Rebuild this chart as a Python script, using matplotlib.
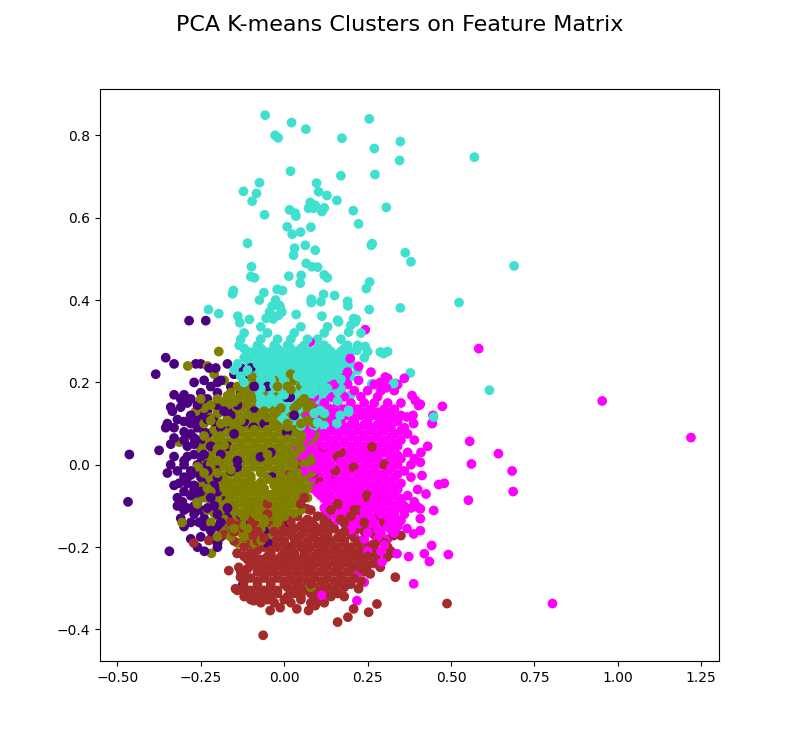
import matplotlib
matplotlib.use("Agg")
import matplotlib.pyplot as plt

# Each cluster: rows of (y, [x, ...]) for the dense core + a list of loose points.

# --- cluster 0: turquoise ---------------------------------------------------
turq_rows = [
    (0.335, [-0.07, 0.05, 0.13]),
    (0.32, [-0.12, -0.05, 0.03, 0.12, 0.23]),
    (0.305, [-0.13, -0.07, -0.02, 0.02, 0.07, 0.10, 0.17]),
    (0.29, [-0.135, -0.08, -0.03, 0.01, 0.06, 0.12, 0.19, 0.22]),
    (0.2825, [-0.12, -0.07, -0.02, 0.02, 0.05, 0.10, 0.13, 0.18]),
    (0.275, [-0.11, -0.09, -0.06, -0.04, -0.01, 0.02, 0.04, 0.06, 0.08, 0.11, 0.14, 0.17, 0.20, 0.25, 0.31]),
    (0.2675, [-0.08, -0.03, 0.01, 0.04, 0.09, 0.12, 0.16, 0.19]),
    (0.26, [-0.12, -0.10, -0.07, -0.05, -0.02, 0.0, 0.03, 0.05, 0.07, 0.10, 0.13, 0.15, 0.18, 0.24]),
    (0.2525, [-0.11, -0.06, -0.04, 0.01, 0.05, 0.08, 0.11, 0.14, 0.18]),
    (0.245, [-0.14, -0.08, -0.06, -0.03, -0.01, 0.02, 0.04, 0.06, 0.09, 0.12, 0.16, 0.20]),
    (0.2375, [-0.09, -0.05, -0.02, 0.0, 0.03, 0.07, 0.10, 0.13, 0.17]),
    (0.23, [-0.15, -0.11, -0.07, -0.04, -0.02, 0.01, 0.03, 0.05, 0.08, 0.11, 0.14, 0.18, 0.22]),
    (0.2225, [-0.11, -0.07, -0.04, -0.01, 0.03, 0.06, 0.09, 0.12, 0.15]),
    (0.215, [-0.13, -0.09, -0.05, -0.03, 0.0, 0.02, 0.04, 0.07, 0.10, 0.13, 0.16, 0.20]),
    (0.2075, [-0.10, -0.07, -0.04, 0.0, 0.02, 0.05, 0.09, 0.13, 0.17]),
    (0.20, [-0.12, -0.08, -0.06, -0.02, 0.01, 0.03, 0.06, 0.08, 0.11, 0.15, 0.19]),
    (0.1925, [-0.09, -0.05, -0.03, 0.0, 0.05, 0.09, 0.12, 0.15]),
    (0.185, [-0.10, -0.07, -0.04, -0.01, 0.02, 0.04, 0.07, 0.10, 0.13, 0.17]),
    (0.1775, [-0.08, -0.06, -0.03, 0.01, 0.04, 0.06, 0.09, 0.12, 0.16]),
    (0.17, [-0.09, -0.05, -0.02, 0.0, 0.03, 0.05, 0.08, 0.11, 0.14, 0.20]),
    (0.1625, [-0.07, -0.04, -0.01, 0.02, 0.07, 0.10, 0.14]),
    (0.155, [-0.06, -0.03, 0.01, 0.04, 0.06, 0.09, 0.12, 0.16]),
    (0.1475, [-0.05, -0.02, 0.03, 0.07, 0.11]),
    (0.14, [-0.04, -0.01, 0.02, 0.05, 0.08, 0.10, 0.13]),
    (0.1325, [-0.03, 0.0, 0.04, 0.08, 0.11]),
    (0.125, [-0.02, 0.03, 0.06, 0.09, 0.12]),
    (0.1175, [-0.01, 0.02, 0.05, 0.09, 0.12]),
    (0.11, [0.0, 0.04, 0.07, 0.10, 0.14]),
    (0.1025, [0.03, 0.07, 0.10]),
    (0.095, [0.05, 0.09, 0.12]),
    (0.08, [0.06, 0.10]),
]
turq_extra = [
    (0.570, 0.747), (0.689, 0.483), (0.524, 0.394), (0.615, 0.181),
    (-0.057, 0.849), (0.022, 0.831), (0.065, 0.815), (0.255, 0.840),
    (-0.027, 0.800), (-0.018, 0.794), (0.173, 0.793), (0.348, 0.785),
    (0.270, 0.768), (0.346, 0.739), (0.019, 0.713), (0.170, 0.702),
    (0.272, 0.705), (-0.074, 0.685), (-0.122, 0.664), (-0.083, 0.659),
    (-0.096, 0.640), (0.097, 0.684), (0.103, 0.663), (0.128, 0.654),
    (0.158, 0.642), (0.078, 0.637), (0.093, 0.630), (0.073, 0.623),
    (0.088, 0.623), (0.120, 0.624), (0.113, 0.615), (0.016, 0.619),
    (0.035, 0.604), (0.033, 0.611), (-0.059, 0.607), (0.207, 0.617),
    (0.306, 0.625), (0.223, 0.585), (0.009, 0.578), (0.024, 0.560),
    (0.049, 0.565), (0.080, 0.577), (-0.110, 0.538), (0.031, 0.526),
    (0.028, 0.509), (0.063, 0.533), (0.093, 0.521), (0.261, 0.533),
    (0.264, 0.537), (0.363, 0.515), (0.380, 0.493), (-0.098, 0.481),
    (-0.089, 0.454), (-0.100, 0.457), (0.066, 0.489), (0.083, 0.481),
    (0.100, 0.480), (0.014, 0.458), (0.051, 0.460), (0.048, 0.441),
    (0.120, 0.461), (0.129, 0.454), (0.256, 0.444), (0.246, 0.428),
    (-0.152, 0.423), (-0.155, 0.415), (-0.061, 0.418), (-0.074, 0.400),
    (-0.021, 0.426), (-0.005, 0.423), (-0.026, 0.400), (-0.014, 0.387),
    (-0.036, 0.385), (0.081, 0.402), (0.081, 0.394), (0.118, 0.414),
    (0.110, 0.396), (0.151, 0.411), (0.190, 0.397), (0.191, 0.386),
    (-0.227, 0.377), (-0.196, 0.367), (0.255, 0.377), (0.348, 0.381),
    (-0.012, 0.383), (-0.007, 0.371), (0.036, 0.365), (0.113, 0.361),
    (0.160, 0.351), (0.208, 0.355), (0.216, 0.353), (0.200, 0.339),
    (0.193, 0.322), (-0.139, 0.361), (-0.133, 0.345), (-0.104, 0.353),
    (-0.044, 0.371), (-0.054, 0.356), (-0.033, 0.354), (-0.017, 0.363),
    (0.288, 0.274), (0.298, 0.270), (0.378, 0.223), (0.333, 0.198),
    (0.263, 0.197), (0.448, 0.116), (0.243, 0.287), (0.218, 0.278),
    (0.213, 0.347), (0.163, 0.347), (0.188, 0.237), (0.158, 0.197),
    (0.193, 0.132), (0.168, 0.120), (-0.071, 0.148), (-0.036, 0.185),
    (0.193, 0.128), (0.158, 0.124), (0.263, 0.195), (0.328, 0.197),
    (0.108, 0.132), (0.158, 0.100),
]

# --- cluster 1: magenta -----------------------------------------------------
mag_rows = [
    (0.225, [0.19, 0.26]),
    (0.21, [0.17, 0.31, 0.36]),
    (0.195, [0.15, 0.19, 0.27, 0.34]),
    (0.18, [0.12, 0.17, 0.21, 0.25, 0.29, 0.33]),
    (0.165, [0.09, 0.14, 0.18, 0.23, 0.28]),
    (0.15, [0.08, 0.12, 0.16, 0.20, 0.24, 0.27, 0.31, 0.35]),
    (0.135, [0.10, 0.14, 0.18, 0.22, 0.26, 0.30, 0.33]),
    (0.1275, [0.12, 0.16, 0.20, 0.24, 0.28, 0.32]),
    (0.12, [0.07, 0.11, 0.15, 0.19, 0.23, 0.27, 0.31, 0.35]),
    (0.1125, [0.09, 0.13, 0.17, 0.21, 0.25, 0.29, 0.33]),
    (0.105, [0.09, 0.13, 0.17, 0.21, 0.25, 0.29, 0.34]),
    (0.0975, [0.08, 0.12, 0.16, 0.20, 0.24, 0.28, 0.31]),
    (0.09, [0.06, 0.10, 0.14, 0.18, 0.22, 0.26, 0.30, 0.32, 0.36]),
    (0.0825, [0.07, 0.10, 0.14, 0.18, 0.22, 0.26, 0.30, 0.35]),
    (0.075, [0.05, 0.08, 0.12, 0.16, 0.20, 0.24, 0.28, 0.33, 0.37]),
    (0.0675, [0.08, 0.12, 0.16, 0.20, 0.24, 0.28, 0.32]),
    (0.06, [0.06, 0.10, 0.14, 0.18, 0.22, 0.26, 0.30, 0.35, 0.39]),
    (0.0525, [0.06, 0.10, 0.14, 0.18, 0.22, 0.26, 0.30, 0.33]),
    (0.045, [0.04, 0.08, 0.12, 0.16, 0.20, 0.24, 0.28, 0.31, 0.34, 0.43]),
    (0.0375, [0.08, 0.12, 0.16, 0.20, 0.24, 0.28, 0.32]),
    (0.03, [0.06, 0.10, 0.14, 0.18, 0.22, 0.26, 0.30, 0.37, 0.41]),
    (0.0225, [0.07, 0.11, 0.15, 0.19, 0.24, 0.28, 0.34]),
    (0.015, [0.05, 0.09, 0.12, 0.16, 0.20, 0.23, 0.27, 0.32, 0.35, 0.39]),
    (0.0075, [0.09, 0.13, 0.17, 0.21, 0.25, 0.29, 0.31]),
    (0.0, [0.07, 0.11, 0.14, 0.18, 0.21, 0.25, 0.29, 0.34, 0.38]),
    (-0.0075, [0.09, 0.12, 0.16, 0.19, 0.23, 0.27, 0.32]),
    (-0.015, [0.06, 0.09, 0.13, 0.16, 0.20, 0.24, 0.27, 0.31, 0.36]),
    (-0.0225, [0.07, 0.10, 0.14, 0.18, 0.22, 0.25, 0.29, 0.34]),
    (-0.03, [0.08, 0.11, 0.15, 0.18, 0.22, 0.26, 0.30, 0.33, 0.38]),
    (-0.0375, [0.09, 0.13, 0.16, 0.20, 0.24, 0.28, 0.31]),
    (-0.045, [0.10, 0.13, 0.17, 0.21, 0.24, 0.28, 0.32, 0.35]),
    (-0.0525, [0.11, 0.15, 0.19, 0.22, 0.26, 0.30, 0.33]),
    (-0.06, [0.09, 0.12, 0.16, 0.19, 0.23, 0.27, 0.30, 0.34, 0.40]),
    (-0.0675, [0.10, 0.13, 0.17, 0.21, 0.25, 0.28, 0.32]),
    (-0.075, [0.11, 0.14, 0.18, 0.22, 0.25, 0.29, 0.33, 0.37]),
    (-0.0825, [0.12, 0.16, 0.20, 0.23, 0.27, 0.31, 0.35]),
    (-0.09, [0.13, 0.17, 0.20, 0.24, 0.28, 0.31, 0.35, 0.39]),
    (-0.0975, [0.15, 0.18, 0.22, 0.26, 0.29, 0.33]),
    (-0.105, [0.12, 0.15, 0.19, 0.23, 0.26, 0.30, 0.34, 0.38]),
    (-0.1125, [0.13, 0.17, 0.21, 0.24, 0.28, 0.32]),
    (-0.12, [0.14, 0.18, 0.22, 0.25, 0.29, 0.33, 0.36]),
    (-0.1275, [0.16, 0.20, 0.23, 0.27, 0.31]),
    (-0.135, [0.16, 0.20, 0.24, 0.28, 0.32, 0.35]),
    (-0.1425, [0.18, 0.22, 0.26, 0.30]),
    (-0.15, [0.19, 0.23, 0.27, 0.31, 0.34]),
    (-0.1575, [0.20, 0.24, 0.28, 0.32]),
    (-0.165, [0.21, 0.25, 0.29, 0.33]),
    (-0.18, [0.24, 0.28, 0.31]),
    (-0.195, [0.26, 0.30]),
    (-0.21, [0.25, 0.29]),
]
mag_extra = [
    (1.219, 0.066), (0.953, 0.155), (0.804, -0.337), (0.583, 0.282),
    (0.556, 0.057), (0.642, 0.027), (0.561, 0.002), (0.683, -0.015),
    (0.686, -0.065), (0.552, -0.086), (0.474, 0.142), (0.446, 0.120),
    (0.444, 0.101), (0.408, 0.147), (0.408, 0.006), (0.413, -0.026),
    (0.463, -0.048), (0.480, -0.045), (0.425, -0.071), (0.408, -0.107),
    (0.408, -0.131), (0.448, -0.111), (0.408, -0.160), (0.442, -0.196),
    (0.420, -0.216), (0.435, -0.235), (0.492, -0.218), (0.388, -0.289),
    (0.373, -0.223), (0.243, 0.328), (0.078, 0.298), (0.198, 0.258),
    (0.223, 0.239), (0.223, 0.205), (0.183, 0.213), (0.143, 0.193),
    (0.303, 0.213), (0.093, 0.225), (0.306, 0.187), (0.288, 0.200),
    (0.383, 0.168), (0.393, 0.156), (0.403, 0.144), (0.368, 0.116),
    (0.386, 0.120), (0.388, 0.100), (0.443, 0.100), (0.358, -0.099),
    (0.401, -0.103), (0.338, -0.135), (0.368, -0.155), (0.388, -0.168),
    (0.338, -0.216), (0.293, -0.236), (0.218, -0.265), (0.218, -0.330),
    (0.113, -0.317), (0.240, -0.285), (0.270, -0.240),
]

# --- cluster 2: indigo ------------------------------------------------------
ind_rows = [
    (0.35, [-0.285, -0.235]),
    (0.26, [-0.355]),
    (0.245, [-0.33, -0.265, -0.25, -0.17]),
    (0.235, [-0.225, -0.205, -0.13, -0.10]),
    (0.22, [-0.385, -0.15, -0.08]),
    (0.205, [-0.24, -0.19, -0.12]),
    (0.20, [-0.27, -0.20]),
    (0.19, [-0.22, -0.16, -0.09, -0.05]),
    (0.175, [-0.25, -0.20, -0.13]),
    (0.17, [-0.33, -0.30]),
    (0.16, [-0.31, -0.28, -0.23, -0.17, -0.11]),
    (0.15, [-0.29, -0.25]),
    (0.145, [-0.26, -0.20, -0.14]),
    (0.14, [-0.34, -0.31]),
    (0.13, [-0.335, -0.23, -0.18, -0.09]),
    (0.12, [-0.28, -0.25, -0.16]),
    (0.11, [-0.32, -0.26, -0.23]),
    (0.105, [-0.30, -0.21, -0.12]),
    (0.10, [-0.35, -0.28]),
    (0.09, [-0.355, -0.33, -0.26, -0.19]),
    (0.08, [-0.30, -0.24]),
    (0.075, [-0.28, -0.23, -0.15]),
    (0.065, [-0.33, -0.27]),
    (0.06, [-0.30, -0.25, -0.20]),
    (0.05, [-0.34, -0.27]),
    (0.045, [-0.29, -0.22, -0.17]),
    (0.035, [-0.375]),
    (0.025, [-0.464, -0.27, -0.24, -0.19]),
    (0.02, [-0.33, -0.29, -0.25]),
    (0.01, [-0.30, -0.22, -0.14]),
    (0.0, [-0.34, -0.30, -0.26, -0.23, -0.20]),
    (-0.015, [-0.32, -0.28, -0.23, -0.16]),
    (-0.02, [-0.35, -0.26]),
    (-0.025, [-0.28, -0.22]),
    (-0.03, [-0.30, -0.25, -0.20]),
    (-0.045, [-0.315, -0.29, -0.24, -0.18]),
    (-0.05, [-0.33, -0.27, -0.21]),
    (-0.06, [-0.27, -0.22, -0.15]),
    (-0.065, [-0.30, -0.25, -0.20]),
    (-0.075, [-0.28, -0.24, -0.19]),
    (-0.08, [-0.32, -0.26, -0.22]),
    (-0.09, [-0.468, -0.305, -0.26, -0.21]),
    (-0.10, [-0.32, -0.27, -0.21]),
    (-0.105, [-0.29, -0.23, -0.17]),
    (-0.11, [-0.30, -0.25, -0.19]),
    (-0.12, [-0.27, -0.20, -0.13]),
    (-0.13, [-0.31, -0.24, -0.17]),
    (-0.14, [-0.28, -0.255, -0.19, -0.10]),
    (-0.15, [-0.30, -0.24, -0.20, -0.17]),
    (-0.16, [-0.22, -0.15, -0.06]),
    (-0.175, [-0.25, -0.19]),
    (-0.18, [-0.28, -0.22]),
    (-0.19, [-0.20, -0.05]),
    (-0.20, [-0.26, -0.20]),
    (-0.21, [-0.344, -0.239]),
]
ind_extra = [
    (-0.124, -0.291), (0.008, 0.164), (0.008, 0.079), (-0.036, -0.030),
    (0.008, -0.082), (0.018, -0.139), (-0.176, -0.123), (0.148, 0.051),
    (0.030, 0.120), (-0.040, 0.030), (0.020, -0.200), (-0.060, 0.100),
    (0.018, -0.143), (-0.101, -0.054), (-0.161, -0.095), (-0.071, 0.019),
    (-0.141, -0.006), (-0.092, 0.091), (-0.171, 0.132), (-0.161, 0.083),
    (-0.101, -0.143), (-0.032, -0.159), (0.018, 0.164),
]

# --- cluster 3: olive -------------------------------------------------------
olive_rows = [
    (0.275, [-0.196]),
    (0.24, [-0.289, -0.23]),
    (0.22, [-0.21, -0.15, -0.06, 0.02]),
    (0.213, [-0.096, -0.071, -0.041, 0.013]),
    (0.205, [-0.18, -0.12, -0.08, -0.03, 0.03]),
    (0.19, [-0.14, -0.10, -0.06, -0.02, 0.01, 0.05]),
    (0.1825, [-0.12, -0.08, -0.05, -0.01, 0.02]),
    (0.175, [-0.16, -0.11, -0.07, -0.04, 0.0, 0.04]),
    (0.1675, [-0.17, -0.13, -0.10, -0.06, -0.03, 0.01, 0.04]),
    (0.16, [-0.25, -0.20, -0.14, -0.09, -0.05, -0.01, 0.02, 0.06]),
    (0.1525, [-0.18, -0.15, -0.11, -0.07, -0.03, 0.01, 0.05]),
    (0.145, [-0.22, -0.17, -0.12, -0.08, -0.04, 0.0, 0.04, 0.08]),
    (0.1375, [-0.24, -0.18, -0.13, -0.09, -0.05, -0.01, 0.03, 0.07]),
    (0.13, [-0.265, -0.20, -0.15, -0.10, -0.06, -0.02, 0.02, 0.06, 0.09]),
    (0.1225, [-0.20, -0.15, -0.11, -0.07, -0.03, 0.01, 0.05]),
    (0.115, [-0.22, -0.17, -0.13, -0.09, -0.05, -0.01, 0.03, 0.07, 0.10]),
    (0.1075, [-0.22, -0.17, -0.13, -0.09, -0.05, -0.01, 0.03, 0.07]),
    (0.10, [-0.24, -0.19, -0.15, -0.11, -0.07, -0.03, 0.01, 0.05, 0.09]),
    (0.0925, [-0.19, -0.15, -0.11, -0.07, -0.03, 0.01, 0.05, 0.09]),
    (0.085, [-0.21, -0.17, -0.13, -0.09, -0.05, -0.01, 0.03, 0.07, 0.11]),
    (0.0775, [-0.22, -0.17, -0.13, -0.09, -0.05, -0.01, 0.03, 0.07]),
    (0.07, [-0.24, -0.19, -0.15, -0.11, -0.07, -0.03, 0.01, 0.05, 0.09]),
    (0.0625, [-0.20, -0.15, -0.11, -0.07, -0.03, 0.01, 0.05, 0.08]),
    (0.055, [-0.314, -0.22, -0.17, -0.13, -0.09, -0.05, -0.01, 0.03, 0.07, 0.10]),
    (0.0475, [-0.23, -0.18, -0.13, -0.09, -0.05, -0.01, 0.03, 0.06]),
    (0.04, [-0.25, -0.20, -0.15, -0.11, -0.07, -0.03, 0.01, 0.05, 0.08]),
    (0.0325, [-0.20, -0.16, -0.11, -0.07, -0.03, 0.01, 0.05, 0.08]),
    (0.025, [-0.22, -0.18, -0.13, -0.09, -0.05, -0.01, 0.03, 0.06, 0.10]),
    (0.0175, [-0.23, -0.18, -0.14, -0.09, -0.05, -0.01, 0.02, 0.06]),
    (0.01, [-0.24, -0.20, -0.16, -0.11, -0.07, -0.03, 0.01, 0.04, 0.08]),
    (0.0025, [-0.22, -0.18, -0.13, -0.09, -0.05, -0.01, 0.03, 0.06]),
    (-0.005, [-0.26, -0.22, -0.18, -0.14, -0.09, -0.05, -0.01, 0.02, 0.06, 0.10]),
    (-0.0125, [-0.24, -0.20, -0.16, -0.11, -0.07, -0.03, 0.01, 0.04, 0.08]),
    (-0.02, [-0.24, -0.20, -0.16, -0.12, -0.07, -0.03, 0.0, 0.04, 0.08]),
    (-0.0275, [-0.22, -0.18, -0.14, -0.10, -0.05, -0.01, 0.02, 0.06]),
    (-0.035, [-0.22, -0.18, -0.14, -0.10, -0.05, -0.01, 0.03, 0.06]),
    (-0.0425, [-0.20, -0.16, -0.12, -0.07, -0.03, 0.01, 0.04]),
    (-0.05, [-0.25, -0.20, -0.16, -0.12, -0.08, -0.03, 0.01, 0.05, 0.08]),
    (-0.0575, [-0.23, -0.18, -0.14, -0.10, -0.06, -0.01, 0.03, 0.07]),
    (-0.065, [-0.22, -0.18, -0.14, -0.10, -0.06, -0.02, 0.02, 0.06]),
    (-0.0725, [-0.20, -0.16, -0.12, -0.08, -0.04, 0.0, 0.04]),
    (-0.08, [-0.24, -0.20, -0.16, -0.12, -0.08, -0.04, 0.0, 0.04, 0.07]),
    (-0.0875, [-0.22, -0.18, -0.14, -0.10, -0.06, -0.02, 0.02]),
    (-0.095, [-0.26, -0.21, -0.17, -0.13, -0.09, -0.05, -0.01, 0.03]),
    (-0.1025, [-0.19, -0.15, -0.11, -0.07, -0.03, 0.01]),
    (-0.11, [-0.23, -0.19, -0.15, -0.11, -0.07, -0.03, 0.01, 0.05]),
    (-0.1175, [-0.21, -0.17, -0.13, -0.09, -0.05, -0.01, 0.03]),
    (-0.125, [-0.20, -0.16, -0.12, -0.08, -0.04, 0.0]),
    (-0.1325, [-0.18, -0.14, -0.10, -0.06, -0.02]),
    (-0.14, [-0.306, -0.22, -0.18, -0.14, -0.10, -0.06, -0.02]),
    (-0.1475, [-0.16, -0.12, -0.08, -0.04]),
    (-0.155, [-0.19, -0.15, -0.11, -0.07, -0.03]),
    (-0.165, [-0.18, -0.13, -0.09]),
    (-0.175, [-0.20, -0.16, -0.12, -0.05]),
    (-0.19, [-0.14, -0.09]),
    (-0.215, [-0.218]),
]
olive_extra = [
    (-0.261, -0.091), (-0.069, -0.184), (0.080, -0.297), (0.12, 0.12),
]

# --- cluster 4: brown -------------------------------------------------------
brown_rows = [
    (-0.08, [0.0, 0.12, 0.25]),
    (-0.095, [-0.05, 0.05, 0.16, 0.30]),
    (-0.11, [-0.10, -0.02, 0.08, 0.14, 0.22, 0.29]),
    (-0.125, [-0.13, -0.06, 0.0, 0.04, 0.10, 0.20]),
    (-0.1325, [-0.10, -0.03, 0.02, 0.07, 0.13, 0.17]),
    (-0.14, [-0.16, -0.09, -0.04, 0.02, 0.06, 0.12, 0.18, 0.24, 0.30]),
    (-0.1475, [-0.14, -0.10, -0.05, 0.0, 0.05, 0.09, 0.14, 0.19]),
    (-0.155, [-0.12, -0.07, -0.02, 0.03, 0.08, 0.11, 0.15, 0.22, 0.26, 0.33]),
    (-0.1625, [-0.15, -0.08, -0.03, 0.01, 0.06, 0.10, 0.13, 0.18, 0.24]),
    (-0.17, [-0.18, -0.10, -0.05, -0.01, 0.02, 0.05, 0.09, 0.13, 0.17, 0.20, 0.27]),
    (-0.1775, [-0.12, -0.06, -0.02, 0.03, 0.08, 0.12, 0.16, 0.21]),
    (-0.185, [-0.20, -0.15, -0.08, -0.03, 0.0, 0.04, 0.07, 0.10, 0.14, 0.18, 0.23, 0.29]),
    (-0.1925, [-0.10, -0.04, 0.0, 0.03, 0.06, 0.10, 0.14, 0.18, 0.22, 0.27]),
    (-0.20, [-0.12, -0.06, -0.02, 0.01, 0.05, 0.08, 0.12, 0.16, 0.20, 0.25, 0.31]),
    (-0.2075, [-0.08, -0.04, 0.02, 0.07, 0.11, 0.15, 0.19, 0.23]),
    (-0.215, [-0.14, -0.10, -0.04, 0.0, 0.03, 0.06, 0.10, 0.13, 0.17, 0.22, 0.27, 0.32]),
    (-0.2225, [-0.12, -0.09, -0.05, -0.01, 0.02, 0.06, 0.09, 0.13, 0.17, 0.21, 0.25]),
    (-0.23, [-0.11, -0.07, -0.03, 0.01, 0.04, 0.08, 0.11, 0.15, 0.19, 0.23, 0.28]),
    (-0.2375, [-0.10, -0.07, -0.03, 0.0, 0.04, 0.07, 0.11, 0.15, 0.19, 0.23, 0.27]),
    (-0.245, [-0.09, -0.05, -0.01, 0.02, 0.06, 0.09, 0.13, 0.17, 0.21, 0.25]),
    (-0.2525, [-0.11, -0.07, -0.03, 0.01, 0.04, 0.08, 0.12, 0.16, 0.20, 0.23]),
    (-0.26, [-0.13, -0.08, -0.04, 0.0, 0.04, 0.07, 0.11, 0.15, 0.19, 0.24]),
    (-0.2675, [-0.12, -0.06, -0.02, 0.02, 0.06, 0.09, 0.13, 0.17, 0.21]),
    (-0.275, [-0.10, -0.06, -0.02, 0.02, 0.05, 0.09, 0.13, 0.17, 0.21]),
    (-0.2825, [-0.12, -0.08, -0.04, 0.0, 0.03, 0.07, 0.11, 0.15, 0.19, 0.23]),
    (-0.29, [-0.08, -0.04, 0.0, 0.04, 0.08, 0.12, 0.16, 0.20]),
    (-0.2975, [-0.12, -0.08, -0.04, 0.01, 0.05, 0.09, 0.13, 0.18]),
    (-0.305, [-0.14, -0.10, -0.06, -0.02, 0.03, 0.07, 0.11, 0.15]),
    (-0.3125, [-0.10, -0.06, -0.02, 0.03, 0.08, 0.12, 0.16]),
    (-0.32, [-0.12, -0.08, -0.04, 0.01, 0.05, 0.10, 0.14, 0.18]),
    (-0.3275, [-0.10, -0.05, 0.0, 0.05, 0.10]),
    (-0.335, [-0.07, -0.03, 0.02, 0.08, 0.12]),
]
brown_extra = [
    (0.488, -0.337), (0.333, -0.273), (0.278, -0.338), (0.253, -0.358),
    (0.208, -0.350), (0.191, -0.370), (0.160, -0.382), (-0.063, -0.414),
    (0.073, -0.354), (0.093, -0.342), (0.223, -0.301), (0.258, -0.265),
    (0.288, -0.249), (0.308, -0.224), (0.328, -0.172), (0.350, -0.172),
    (0.288, -0.123), (0.248, -0.074), (-0.271, -0.190), (-0.226, -0.184),
    (-0.166, -0.257), (-0.141, -0.215), (-0.146, -0.301), (-0.116, -0.313),
    (-0.091, -0.330), (-0.042, -0.354), (-0.012, -0.347), (0.038, -0.350),
    (0.133, 0.083), (0.063, 0.035), (0.263, 0.043), (0.208, -0.006),
    (0.153, -0.014), (0.108, -0.042), (0.018, -0.022), (0.100, -0.060),
    (0.200, -0.050), (0.300, 0.000), (0.050, 0.000), (0.170, 0.030),
    (-0.136, -0.249), (-0.131, -0.273), (-0.200, -0.192),
    (0.068, 0.043), (0.118, 0.043), (0.160, 0.020), (0.090, -0.020),
    (0.140, -0.040), (0.220, -0.030), (0.120, -0.070), (0.170, -0.080),
    (0.060, -0.080), (0.210, -0.110), (0.250, -0.150), (0.300, -0.190),
    (0.270, -0.200), (0.320, -0.210), (0.230, -0.220), (-0.050, -0.120),
    (-0.100, -0.150), (0.000, -0.160), (-0.070, -0.100), (0.158, -0.099),
    (0.163, -0.131), (0.123, -0.119), (0.168, -0.168), (0.118, -0.196),
    (0.198, -0.208), (0.183, -0.232), (0.068, -0.107), (0.083, -0.139),
]

CLUSTER_COLORS = ["#40E0D0", "#FF00FF", "#4B0082", "#808000", "#A52A2A"]


def _points(rows, extra):
    pts = [(x, y) for y, xs in rows for x in xs]
    return pts + list(extra)


clusters = [
    _points(turq_rows, turq_extra),
    _points(mag_rows, mag_extra),
    _points(ind_rows, ind_extra),
    _points(olive_rows, olive_extra),
    _points(brown_rows, brown_extra),
]

all_pts = [(x, y, CLUSTER_COLORS[i]) for i, pts in enumerate(clusters) for x, y in pts]

# draw in a scrambled (stride) order so no colour is always on top
n = len(all_pts)
stride = 7919 if n % 7919 else 7907
order = [(k * stride) % n for k in range(n)]
xs = [all_pts[k][0] for k in order]
ys = [all_pts[k][1] for k in order]
cs = [all_pts[k][2] for k in order]

fig, ax = plt.subplots(figsize=(7.99, 7.43), dpi=100)
ax.scatter(xs, ys, c=cs)
fig.suptitle("PCA K-means Clusters on Feature Matrix", fontsize=16)

fig.savefig("out.png", dpi=100)
